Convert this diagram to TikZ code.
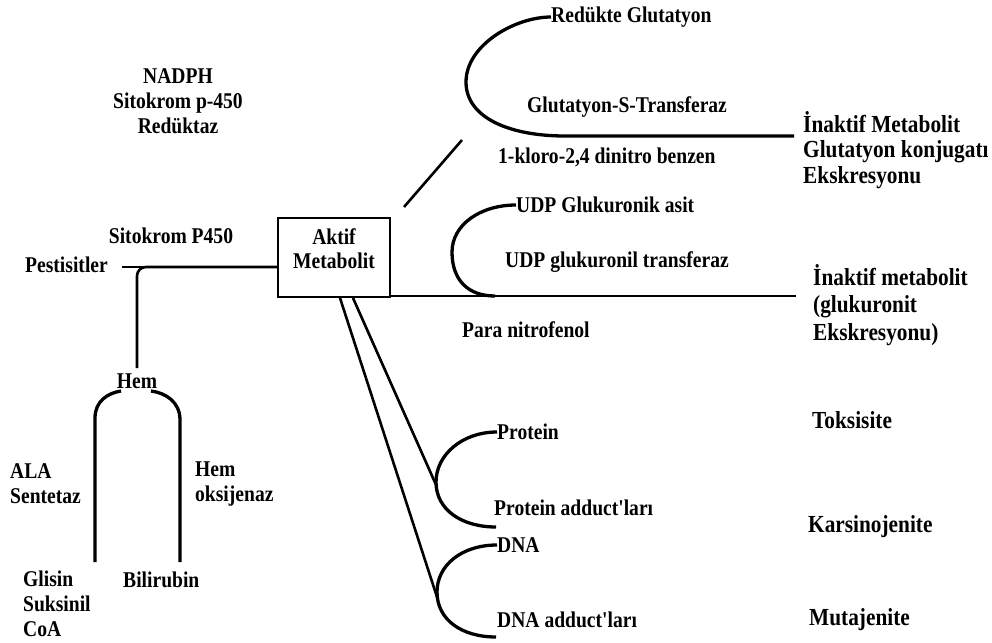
\documentclass[tikz,border=0pt]{standalone}
\usepackage{fontspec}
\setmainfont{Liberation Serif}[FakeStretch=0.87, Ligatures=TeXOff]
\begin{document}
\begin{tikzpicture}[x=1pt,y=-1pt,
  lbl/.style={font=\fontsize{22.5}{25}\selectfont\bfseries, inner sep=0pt, align=left, anchor=west},
  rlbl/.style={font=\fontsize{24.5}{26}\selectfont\bfseries, inner sep=0pt, align=left, anchor=west},
  ln/.style={line width=2.6pt},
  curv/.style={line width=3.3pt}]

  % Fix the page to the size of the figure
  \useasboundingbox (0,0) rectangle (992,642);

  % The central box
  \node[draw, line width=2.8pt, minimum width=112pt, minimum height=79pt, inner sep=0pt] (box) at (334,257.5) {};
  \node[lbl, anchor=center, align=center, font=\fontsize{22.5}{24}\selectfont\bfseries] (boxtxt) at (334,249) {Aktif\\Metabolit};

  % Labels on the left
  \node[lbl, anchor=center, align=center] (nadph) at (178,101) {NADPH\\Sitokrom p-450\\Redüktaz};
  \node[lbl, anchor=center] (sitp) at (171,236) {Sitokrom P450};
  \node[lbl] (pest) at (25,265) {Pestisitler};
  \node[lbl, anchor=center] (hem) at (137,381) {Hem};
  \node[lbl] (ala) at (10,484) {ALA\\Sentetaz};
  \node[lbl] (hemox) at (195,484) {Hem\\oksijenaz};
  \node[lbl] (glis) at (23,604) {Glisin\\Suksinil\\CoA};
  \node[lbl] (bili) at (123,580) {Bilirubin};

  % Labels in the middle
  \node[lbl] (redg) at (551,17) {Redükte Glutatyon};
  \node[lbl] (gst) at (527,107) {Glutatyon-S-Transferaz};
  \node[lbl] (kloro) at (498,157) {1-kloro-2,4 dinitro benzen};
  \node[lbl] (udpa) at (516,205) {UDP Glukuronik asit};
  \node[lbl] (udpt) at (505,262) {UDP glukuronil transferaz};
  \node[lbl] (para) at (462,330) {Para nitrofenol};
  \node[lbl] (prot) at (497,432) {Protein};
  \node[lbl] (protad) at (494,508) {Protein adduct'ları};
  \node[lbl] (dna) at (497,545) {DNA};
  \node[lbl] (dnaad) at (497,620) {DNA adduct'ları};

  % Labels on the right
  \node[rlbl, font=\fontsize{24.5}{25.5}\selectfont\bfseries] (inak1) at (803,150) {İnaktif Metabolit\\Glutatyon konjugatı\\Ekskresyonu};
  \node[rlbl, font=\fontsize{24.5}{27.5}\selectfont\bfseries] (inak2) at (813,305) {İnaktif metabolit\\(glukuronit\\Ekskresyonu)};
  \node[rlbl] (toks) at (812,420) {Toksisite};
  \node[rlbl] (kars) at (808,527) {Karsinojenite};
  \node[rlbl] (muta) at (809,620) {Mutajenite};

  % End points of the lines
  \coordinate (pl) at (122,267);
  \coordinate (bl) at (278,267);
  \coordinate (hemtop) at (137,368);
  \coordinate (dgl) at (404,207);
  \coordinate (dgu) at (462,140);
  \coordinate (gend) at (794,136);
  \coordinate (br) at (390,296);
  \coordinate (uend) at (796,296);
  \coordinate (inA) at (353,298);
  \coordinate (inB) at (437,487);
  \coordinate (outA) at (340,298);
  \coordinate (outB) at (437,597);

  % Pestisitler to the box, with the branch down to Hem
  \draw[ln] (pl) -- (bl);
  \draw[ln, rounded corners=9pt] (hemtop) |- (bl);

  % The Hem arch
  \draw[curv] (95,562) -- (95,418) .. controls (95,401) and (108,393) .. (121,391);
  \draw[curv] (151,391) .. controls (166,393) and (180,402) .. (180,420) -- (180,562);

  % Glutatyon branch
  \draw[ln] (dgl) -- (dgu);
  \draw[curv] (redg.west) .. controls (515,17) and (466,45) .. (466,82)
    .. controls (466,118) and (510,136) .. (565,136) -- (gend);

  % Glukuronit branch
  \draw[ln] (br) -- (uend);
  \draw[curv] (udpa.west) .. controls (480,205) and (452,225) .. (452,252)
    .. controls (452,280) and (468,296) .. (495,296);

  % Protein and DNA branches
  \draw[ln] (inA) -- (inB);
  \draw[ln] (outA) -- (outB);
  \draw[curv] (prot.west) .. controls (462,432) and (436,455) .. (436,482)
    .. controls (436,510) and (462,527) .. (496,527);
  \draw[curv] (dna.west) .. controls (462,545) and (437,565) .. (437,592)
    .. controls (437,620) and (462,637) .. (496,637);

\end{tikzpicture}
\end{document}
